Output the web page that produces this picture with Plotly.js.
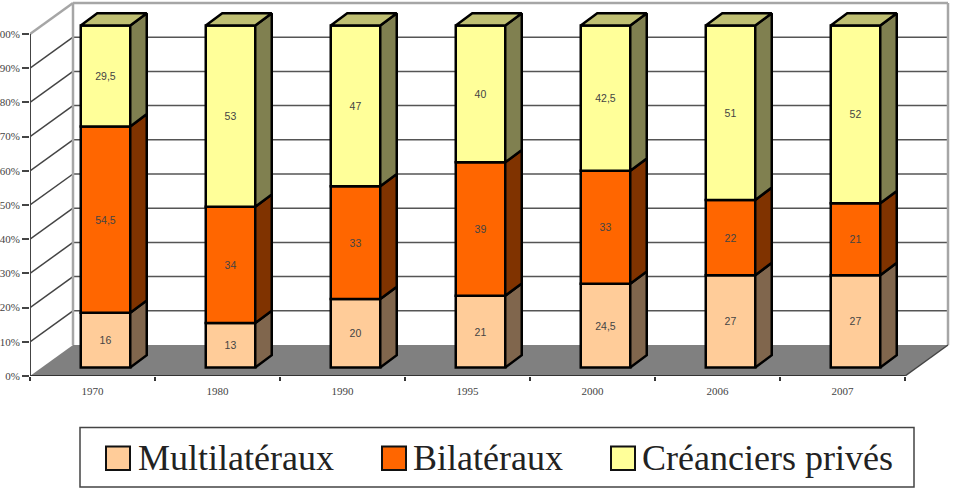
<!DOCTYPE html>
<html>
<head>
<meta charset="utf-8">
<script src="https://cdn.plot.ly/plotly-3.0.1.min.js"></script>
<style>html,body{margin:0;padding:0;background:#fff;overflow:hidden}#chart{width:953px;height:489px}</style>
</head>
<body>
<div id="chart"></div>
<script>
// ---- data ----
var categories = ['1970','1980','1990','1995','2000','2006','2007'];
var multilateraux = [16,13,20,21,24.5,27,27];
var bilateraux = [54.5,34,33,39,33,22,21];
var creanciers = [29.5,53,47,40,42.5,51,52];
var seriesNames = ['Multilatéraux','Bilatéraux','Créanciers privés'];
var percentTicks = [0,10,20,30,40,50,60,70,80,90,100];

// ---- style ----
var frontColors = ['#FFCC99','#FF6600','#FFFF99'];
var sideColors = ['#80664D','#803300','#808050'];
var topColor = '#BFBF73';

// ---- oblique projection, in axis units ----
var PXX = 125, PXY = 3.42;                // pixels per category, pixels per percent
var wallDX = 43/PXX, wallDY = 31/PXY;     // depth of the floor
var barShift = 13/PXX, barLift = 8.5/PXY; // front of the bars inside the floor
var barW = 49.5/PXX;
var barDX = 16.5/PXX, barDY = 12.3/PXY;   // depth of the bars
var n = categories.length;
var W = 953, H = 489, mL = 30, mR = 3, mT = 0, mB = 113;
var xMax = (W-mL-mR)/PXX, yMax = (H-mT-mB)/PXY;

var series = [multilateraux, bilateraux, creanciers];
var centers = categories.map(function(c,i){return i+0.5;});
var boundaries = []; for (var b=0;b<=n;b++) boundaries.push(b);

function seg(x0,y0,x1,y1,color,width){
  return {type:'line',xref:'x',yref:'y',x0:x0,y0:y0,x1:x1,y1:y1,layer:'below',line:{color:color,width:width}};
}
var shapes = [];
// gridlines on the side wall and back wall
percentTicks.forEach(function(p){
  if (p===0) return;
  if (p<100) shapes.push(seg(wallDX,p+wallDY,n+wallDX,p+wallDY,'#555',1.5));
  if (p<100) shapes.push(seg(0,p,wallDX,p+wallDY,'#444',1.5));
});
// floor
var fx=[0,n,n+wallDX,wallDX], fy=[0,0,wallDY,wallDY];
shapes.push({type:'path',xref:'x',yref:'y',layer:'below',fillcolor:'#808080',line:{width:0},
  path:'M'+fx.map(function(v,i){return v+','+fy[i];}).join('L')+'Z'});
// wall frame
var pTop = percentTicks[percentTicks.length-1];
shapes.push(seg(wallDX,wallDY,wallDX,pTop+wallDY,'#a6a6a6',2.5));
shapes.push(seg(wallDX,pTop+wallDY,n+wallDX,pTop+wallDY,'#a6a6a6',2.5));
shapes.push(seg(n+wallDX,pTop+wallDY,n+wallDX,wallDY,'#a6a6a6',2.5));
shapes.push(seg(0,pTop,wallDX,pTop+wallDY,'#a6a6a6',2.5));
// front axis lines
shapes.push(seg(0,0,0,pTop,'#444',2));
shapes.push(seg(0,0,n,0,'#333',2));
shapes.push(seg(n,0,n+wallDX,wallDY,'#444',1.5));

// ---- bars: front faces, side faces, top ----
var traces = [];
var bases = categories.map(function(){return 0;});
series.forEach(function(vals,s){
  var sx=[], sy=[];
  var x = centers.map(function(c){return c+barShift;});
  var base = bases.slice();
  vals.forEach(function(v,i){
    var r = x[i]+barW/2, y0 = base[i]+barLift, y1 = y0+v;
    sx.push(r,r+barDX,r+barDX,r,r,null);
    sy.push(y0,y0+barDY,y1+barDY,y1,y0,null);
  });
  traces.push({type:'scatter',mode:'lines',x:sx,y:sy,fill:'toself',fillcolor:sideColors[s],
    line:{color:'#000',width:2.5},hoverinfo:'skip',showlegend:false});
  traces.push({type:'bar',name:seriesNames[s],x:x,y:vals,base:base.map(function(v){return v+barLift;}),
    width:barW,marker:{color:frontColors[s],line:{color:'#000',width:2.5}},
    text:vals.map(function(v){return String(v).replace('.',',');}),
    textposition:'inside',insidetextanchor:'middle',textangle:0,constraintext:'none',
    textfont:{family:'Liberation Sans, Arial, sans-serif',size:10.5,color:'#444'},
    hoverinfo:'name+y',showlegend:false});
  vals.forEach(function(v,i){bases[i]+=v;});
});
// top faces
var tx=[], ty=[];
centers.forEach(function(c,i){
  var l=c+barShift-barW/2, r=c+barShift+barW/2, y=bases[i]+barLift;
  tx.push(l,l+barDX,r+barDX,r,l,null);
  ty.push(y,y+barDY,y+barDY,y,y,null);
});
traces.push({type:'scatter',mode:'lines',x:tx,y:ty,fill:'toself',fillcolor:topColor,
  line:{color:'#000',width:2.5},hoverinfo:'skip',showlegend:false});

// ---- legend drawn in paper coordinates ----
function px(x){return (x-mL)/(W-mL-mR);}
function py(y){return 1-(y-mT)/(H-mT-mB);}
shapes.push({type:'rect',xref:'paper',yref:'paper',x0:px(80),x1:px(914),y0:py(427.5),y1:py(487),
  line:{color:'#444',width:1.5},fillcolor:'#fff',layer:'above'});
var swatchX=[106,382,611], textX=[137,412,641];
var annotations=[];
seriesNames.forEach(function(name,s){
  shapes.push({type:'rect',xref:'paper',yref:'paper',x0:px(swatchX[s]),x1:px(swatchX[s]+24),y0:py(446.5),y1:py(470),
    line:{color:'#111',width:2},fillcolor:frontColors[s],layer:'above'});
  annotations.push({xref:'paper',yref:'paper',x:px(textX[s]),y:py(458),xanchor:'left',yanchor:'middle',
    text:name,showarrow:false,borderpad:0,font:{family:'Liberation Serif, Times New Roman, serif',size:36,color:'#222'}});
});

var tickFont={family:'Liberation Serif, Times New Roman, serif',size:11,color:'#444'};
var layout={
  width:W,height:H,margin:{l:mL,r:mR,t:mT,b:mB,pad:0},
  paper_bgcolor:'#fff',plot_bgcolor:'#fff',showlegend:false,barmode:'overlay',
  xaxis:{type:'linear',range:[0,xMax],tickmode:'array',tickvals:centers,ticktext:categories,ticks:'',
    tickfont:tickFont,showgrid:false,zeroline:false,showline:false,fixedrange:true,
    ticklabelstandoff:7,
    minor:{tickmode:'array',tickvals:boundaries,ticks:'outside',ticklen:4,tickcolor:'#333',tickwidth:1.5,showgrid:false}},
  yaxis:{type:'linear',range:[0,yMax],tickmode:'array',tickvals:percentTicks,
    ticktext:percentTicks.map(function(p){return p+'%';}),ticks:'outside',ticklen:7,tickcolor:'#444',tickwidth:1.5,
    tickfont:tickFont,showgrid:false,zeroline:false,showline:false,fixedrange:true},
  shapes:shapes,annotations:annotations
};
Plotly.newPlot('chart',traces,layout,{displayModeBar:false,responsive:false});
</script>
</body>
</html>
